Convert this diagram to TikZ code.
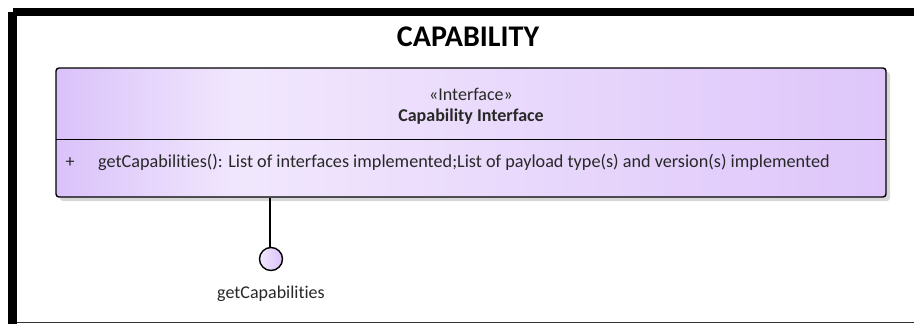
\documentclass[tikz,border=0pt]{standalone}
\usepackage{fontspec}
\setmainfont{Carlito}[Ligatures=NoCommon]
\definecolor{boxL}{RGB}{218,194,250}
\definecolor{boxM}{RGB}{241,231,253}
\definecolor{boxR}{RGB}{222,198,250}
\definecolor{txt}{RGB}{40,40,40}
\definecolor{shadowc}{RGB}{215,215,215}
\pgfdeclarehorizontalshading{boxshade}{100bp}{color(0bp)=(boxL); color(25bp)=(boxL); color(36bp)=(boxM); color(75bp)=(boxR); color(100bp)=(boxR)}
\begin{document}
\begin{tikzpicture}[x=1pt,y=-1pt,
  lbl/.style={inner sep=0pt, text=txt, font=\fontsize{18}{21}\selectfont},
  classbox/.style={draw=black, line width=1.4pt, rounded corners=3pt, shading=boxshade},
]
\useasboundingbox (0,0) rectangle (914,324);
% frame
\fill[black] (13,8) rectangle (914,16);
\fill[black] (8,12) rectangle (17,324);
\draw[line width=1pt, black!80] (17,322.5) -- (914,322.5);
% title
\node[inner sep=0pt, font=\fontsize{30}{34}\selectfont\bfseries, anchor=base] (title) at (468,46.5) {CAPABILITY};
% class box
\fill[shadowc, rounded corners=3pt] (60,72) rectangle (890,201);
\path[classbox] (56,68) rectangle (886,197);
\coordinate (bl) at (56,139);
\coordinate (br) at (886,139);
\draw[line width=1pt] (bl) -- (br);
\node[lbl, anchor=base] (stereo) at (471,100) {«Interface»};
\node[lbl, anchor=base, font=\fontsize{18}{21}\selectfont\bfseries] (cname) at (471,121.5) {Capability Interface};
\node[lbl, anchor=base] (plus) at (70,167) {+};
\node[lbl, anchor=base west, font=\fontsize{18.2}{21}\selectfont] (op) at (98,167) {getCapabilities(): List of interfaces implemented;List of payload type(s) and version(s) implemented};
% lollipop
\coordinate (lfoot) at (270,197.7);
\node[circle, draw=black, line width=1.4pt, minimum size=23pt, inner sep=0pt, left color=boxM, right color=boxL] (port) at (271,259) {};
\draw[line width=1.4pt] (lfoot) -- (lfoot |- port.north);
\node[lbl, anchor=base] (plabel) at (271,298.3) {getCapabilities};
\end{tikzpicture}
\end{document}
